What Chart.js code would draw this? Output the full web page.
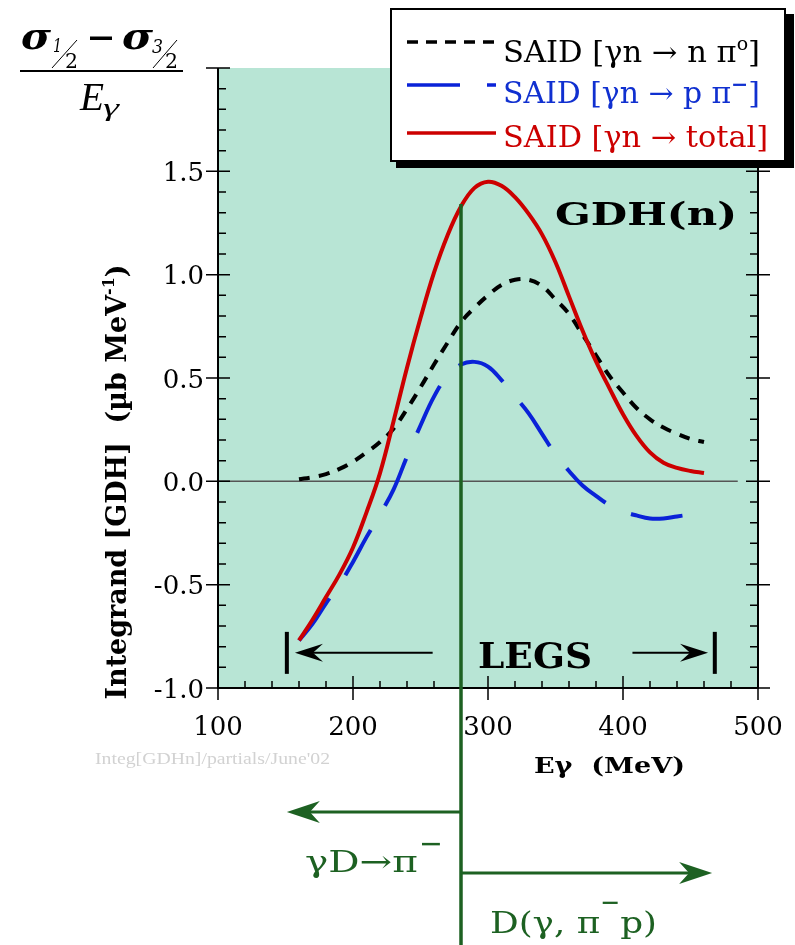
<!DOCTYPE html>
<html><head><meta charset="utf-8">
<script src="https://cdn.jsdelivr.net/npm/chart.js@4.4.1/dist/chart.umd.min.js"></script>
<style>html,body{margin:0;padding:0;background:#fff;}canvas{display:block}</style>
</head><body>
<canvas id="c" width="795" height="945"></canvas>
<script>
// ---- data ----
const energies = [160,170,180,190,200,210,220,230,240,250,260,270,280,290,300,310,320,330,340,350,360,370,380,390,400,410,420,430,440,450,460];
const totalVals = [-0.77,-0.67,-0.56,-0.45,-0.32,-0.15,0.04,0.29,0.55,0.79,1.01,1.19,1.33,1.42,1.45,1.43,1.375,1.295,1.195,1.06,0.895,0.73,0.58,0.45,0.325,0.22,0.14,0.09,0.065,0.05,0.04];
const piZeroVals = [0.01,0.02,0.035,0.06,0.095,0.14,0.19,0.255,0.35,0.455,0.565,0.67,0.77,0.84,0.90,0.95,0.975,0.975,0.945,0.88,0.81,0.71,0.61,0.51,0.43,0.355,0.30,0.26,0.23,0.205,0.19];
const piMinusVals = [-0.77,-0.69,-0.59,-0.50,-0.39,-0.27,-0.16,-0.04,0.12,0.27,0.41,0.51,0.565,0.578,0.555,0.49,0.41,0.33,0.23,0.13,0.05,-0.02,-0.07,-0.115,-0.145,-0.165,-0.18,-0.18,-0.17,-0.16,-0.15];
const xTickValues = [100,200,300,400,500];
const xTickLabels = ['100','200','300','400','500'];
const yTickValues = [-1.0,-0.5,0.0,0.5,1.0,1.5,2.0];
const yTickLabels = ['-1.0','-0.5','0.0','0.5','1.0','1.5',''];
const legendLabels = ['SAID [\u03b3n \u2192 n \u03c0', 'SAID [\u03b3n \u2192 p \u03c0', 'SAID [\u03b3n \u2192 total]'];
const cutEnergy = 280;       // vertical green line
const cutTop = 1.342;
const legsBars = [151, 468];
const legsArrowLeft = [157, 259];
const legsArrowRight = [407, 463];
const legsY = -0.83;

const GREEN = '#1d6122';
const SERIF = '"DejaVu Serif", serif';

function rich(ctx, segs, x, y, opt) {
  ctx.save();
  let w = 0;
  segs.forEach(s => { ctx.font = s.font; s.w = ctx.measureText(s.t).width; w += s.w + (s.dx || 0); });
  const sx = opt.width ? opt.width / w : (opt.sx || 1);
  ctx.translate(x, y);
  if (opt.rot) ctx.rotate(opt.rot);
  ctx.scale(sx, opt.sy || 1);
  let cx = opt.align === 'center' ? -w / 2 : opt.align === 'right' ? -w : 0;
  ctx.textBaseline = 'alphabetic';
  ctx.textAlign = 'left';
  segs.forEach(s => {
    ctx.font = s.font; ctx.fillStyle = s.color || opt.color || '#000';
    ctx.fillText(s.t, cx + (s.dx || 0), s.dy || 0);
    cx += s.w + (s.dx || 0);
  });
  ctx.restore();
}

function arrowHead(ctx, tipX, y, dir, len, half, notch, color) {
  ctx.save();
  ctx.fillStyle = color;
  ctx.beginPath();
  ctx.moveTo(tipX, y);
  ctx.lineTo(tipX - dir * len, y - half);
  ctx.lineTo(tipX - dir * notch, y);
  ctx.lineTo(tipX - dir * len, y + half);
  ctx.closePath();
  ctx.fill();
  ctx.restore();
}

const bgPlugin = {
  id: 'bg',
  beforeDatasetsDraw(chart) {
    const {ctx, chartArea: a, scales: {x, y}} = chart;
    ctx.save();
    ctx.fillStyle = '#b8e5d5';
    ctx.fillRect(a.left, a.top, a.right - a.left, a.bottom - a.top);
    ctx.strokeStyle = '#555';
    ctx.lineWidth = 1.5;
    ctx.beginPath();
    ctx.moveTo(a.left, y.getPixelForValue(0));
    ctx.lineTo(x.getPixelForValue(485), y.getPixelForValue(0));
    ctx.stroke();
    ctx.restore();
  }
};

const overlayPlugin = {
  id: 'overlay',
  afterDatasetsDraw(chart) {
    const {ctx, chartArea: a, scales: {x, y}} = chart;
    ctx.save();
    ctx.strokeStyle = '#000';
    ctx.lineWidth = 2;
    ctx.beginPath();
    ctx.moveTo(a.left, a.top); ctx.lineTo(a.left, a.bottom); ctx.lineTo(a.right, a.bottom); ctx.lineTo(a.right, a.top);
    ctx.stroke();
    ctx.lineWidth = 1.5;
    ctx.beginPath();
    for (let v = 100; v <= 500.01; v += 20) {
      const px = x.getPixelForValue(v);
      const major = Math.abs(v % 100) < 0.01;
      if (major) { ctx.moveTo(px, a.bottom + 12); ctx.lineTo(px, a.bottom - 12); }
      else { ctx.moveTo(px, a.bottom); ctx.lineTo(px, a.bottom - 7); }
    }
    for (let i = 0; i <= 30; i++) {
      const v = -1 + i * 0.1;
      const py = y.getPixelForValue(v);
      const major = i % 5 === 0;
      if (major) {
        ctx.moveTo(a.left - 12, py); ctx.lineTo(a.left + 12, py);
        ctx.moveTo(a.right - 12, py); ctx.lineTo(a.right + 12, py);
      } else {
        ctx.moveTo(a.left, py); ctx.lineTo(a.left + 8, py);
        ctx.moveTo(a.right, py); ctx.lineTo(a.right - 8, py);
      }
    }
    ctx.stroke();
    ctx.fillStyle = '#000';
    ctx.font = '26px ' + SERIF;
    ctx.textBaseline = 'alphabetic';
    ctx.textAlign = 'center';
    xTickValues.forEach((v, i) => ctx.fillText(xTickLabels[i], x.getPixelForValue(v), a.bottom + 47));
    ctx.textAlign = 'right';
    yTickValues.forEach((v, i) => { if (yTickLabels[i]) ctx.fillText(yTickLabels[i], a.left - 14, y.getPixelForValue(v) + 9.5); });

    const ly = y.getPixelForValue(legsY);
    ctx.fillStyle = '#000';
    legsBars.forEach(e => { const px = x.getPixelForValue(e); ctx.fillRect(px - 2, ly - 21, 4, 42); });
    ctx.strokeStyle = '#000'; ctx.lineWidth = 2;
    const l1 = x.getPixelForValue(legsArrowLeft[0]), l2 = x.getPixelForValue(legsArrowLeft[1]);
    const r1 = x.getPixelForValue(legsArrowRight[0]), r2 = x.getPixelForValue(legsArrowRight[1]);
    ctx.beginPath(); ctx.moveTo(l2, ly); ctx.lineTo(l1 + 10, ly); ctx.moveTo(r1, ly); ctx.lineTo(r2 - 10, ly); ctx.stroke();
    arrowHead(ctx, l1, ly, -1, 28, 9, 18, '#000');
    arrowHead(ctx, r2, ly, 1, 28, 9, 18, '#000');
    rich(ctx, [{t: 'LEGS', font: 'bold 36px ' + SERIF}], 478, ly + 15, {width: 114});

    rich(ctx, [{t: 'GDH(n)', font: 'bold 31px ' + SERIF}], 555, 225, {width: 182});

    const gx = x.getPixelForValue(cutEnergy);
    ctx.strokeStyle = GREEN; ctx.lineWidth = 3.5;
    ctx.beginPath(); ctx.moveTo(gx, y.getPixelForValue(cutTop)); ctx.lineTo(gx, chart.height); ctx.stroke();
    ctx.lineWidth = 3;
    const ay1 = 812, ay2 = 873;
    const lt = x.getPixelForValue(151), rt = x.getPixelForValue(466);
    ctx.beginPath(); ctx.moveTo(gx, ay1); ctx.lineTo(lt + 15, ay1); ctx.moveTo(gx, ay2); ctx.lineTo(rt - 15, ay2); ctx.stroke();
    arrowHead(ctx, lt, ay1, -1, 33, 11, 23, GREEN);
    arrowHead(ctx, rt, ay2, 1, 33, 11, 23, GREEN);
    rich(ctx, [{t: '\u03b3D\u2192\u03c0', font: '30px ' + SERIF}, {t: '\u2212', font: 'bold 22px ' + SERIF, dy: -21, dx: 1}], 305, 872, {width: 138, color: GREEN});
    rich(ctx, [{t: 'D(\u03b3, \u03c0', font: '30px ' + SERIF}, {t: '\u2212', font: 'bold 20px ' + SERIF, dy: -24}, {t: 'p)', font: '30px ' + SERIF}], 490, 933, {width: 167, color: GREEN});

    rich(ctx, [{t: 'E\u03b3  (MeV)', font: 'bold 23px ' + SERIF}], 534, 773, {width: 151});
    rich(ctx, [{t: 'Integrand [GDH]  (\u00b5b MeV', font: 'bold 27px ' + SERIF}, {t: '-1', font: 'bold 16px ' + SERIF, dy: -12}, {t: ')', font: 'bold 27px ' + SERIF}], 126, 482, {width: 435, align: 'center', rot: -Math.PI / 2});

    rich(ctx, [{t: "Integ[GDHn]/partials/June'02", font: '17px "Liberation Serif", serif'}], 95, 764, {width: 235, color: '#d2d2d2'});

    const sig = 'bold italic 38px ' + SERIF;
    rich(ctx, [{t: '\u03c3', font: sig}], 21, 49, {width: 30});
    rich(ctx, [{t: '1', font: 'italic 18px ' + SERIF}], 53, 52, {width: 9});
    rich(ctx, [{t: '2', font: '20px ' + SERIF}], 65, 68, {width: 13});
    rich(ctx, [{t: '\u03c3', font: sig}], 122, 49, {width: 31});
    rich(ctx, [{t: '3', font: 'italic 18px ' + SERIF}], 152, 53, {width: 11});
    rich(ctx, [{t: '2', font: '20px ' + SERIF}], 165, 68, {width: 13});
    ctx.fillStyle = '#000';
    ctx.fillRect(90, 36.5, 22, 3.5);
    ctx.fillRect(20, 70, 163, 2);
    ctx.strokeStyle = '#000'; ctx.lineWidth = 1;
    ctx.beginPath(); ctx.moveTo(52, 68); ctx.lineTo(77, 40); ctx.moveTo(153, 68); ctx.lineTo(177, 40); ctx.stroke();
    rich(ctx, [{t: 'E', font: 'italic 40px "Liberation Serif", serif'}], 80, 110, {width: 24});
    rich(ctx, [{t: '\u03b3', font: 'italic 26px "Liberation Serif", serif'}], 103, 116, {width: 16});

    ctx.fillStyle = '#000';
    ctx.fillRect(396, 14, 398, 154);
    ctx.fillStyle = '#fff';
    ctx.fillRect(390, 8, 396, 154);
    ctx.strokeStyle = '#000'; ctx.lineWidth = 2;
    ctx.strokeRect(391, 9, 394, 152);
    ctx.lineWidth = 3.5;
    ctx.setLineDash([11, 8]);
    ctx.strokeStyle = '#000';
    ctx.beginPath(); ctx.moveTo(407, 42); ctx.lineTo(496, 42); ctx.stroke();
    ctx.setLineDash([]);
    ctx.strokeStyle = '#0a22d8';
    ctx.beginPath(); ctx.moveTo(407, 85); ctx.lineTo(460, 85); ctx.moveTo(487, 85); ctx.lineTo(496, 85); ctx.stroke();
    ctx.strokeStyle = '#cc0000';
    ctx.beginPath(); ctx.moveTo(407, 133); ctx.lineTo(496, 133); ctx.stroke();
    const lf = '29px ' + SERIF;
    rich(ctx, [{t: legendLabels[0], font: lf}, {t: 'o', font: '18px ' + SERIF, dy: -12}, {t: ']', font: lf}], 503, 62, {width: 257, color: '#000'});
    rich(ctx, [{t: legendLabels[1], font: lf}, {t: '\u2212', font: 'bold 20px ' + SERIF, dy: -12}, {t: ']', font: lf}], 503, 103, {width: 257, color: '#1030d0'});
    rich(ctx, [{t: legendLabels[2], font: lf}], 503, 147, {width: 265, color: '#cc0000'});
    ctx.restore();
  }
};

const toPts = vals => energies.map((e, i) => ({x: e, y: vals[i]}));

new Chart(document.getElementById('c').getContext('2d'), {
  type: 'line',
  data: {
    datasets: [
      {label: 'total', data: toPts(totalVals), borderColor: '#cc0000', borderWidth: 4, pointRadius: 0, tension: 0.4, fill: false},
      {label: 'pi0', data: toPts(piZeroVals), borderColor: '#000', borderWidth: 4, borderDash: [11, 9], pointRadius: 0, tension: 0.4, fill: false},
      {label: 'pi-', data: toPts(piMinusVals), borderColor: '#0a22d8', borderWidth: 4, borderDash: [52, 28], pointRadius: 0, tension: 0.4, fill: false}
    ]
  },
  options: {
    responsive: false,
    animation: false,
    layout: {padding: {left: 0, top: 68, right: 37, bottom: 247}},
    plugins: {legend: {display: false}, tooltip: {enabled: false}},
    scales: {
      x: {type: 'linear', min: 100, max: 500, ticks: {display: false, stepSize: 100}, grid: {display: false, drawTicks: false}, border: {display: false},
          afterFit(s) { s.height = 10; }},
      y: {type: 'linear', min: -1, max: 2, ticks: {display: false, stepSize: 0.5}, grid: {display: false, drawTicks: false}, border: {display: false},
          afterFit(s) { s.width = 218; }}
    }
  },
  plugins: [bgPlugin, overlayPlugin]
});
</script>
</body></html>
